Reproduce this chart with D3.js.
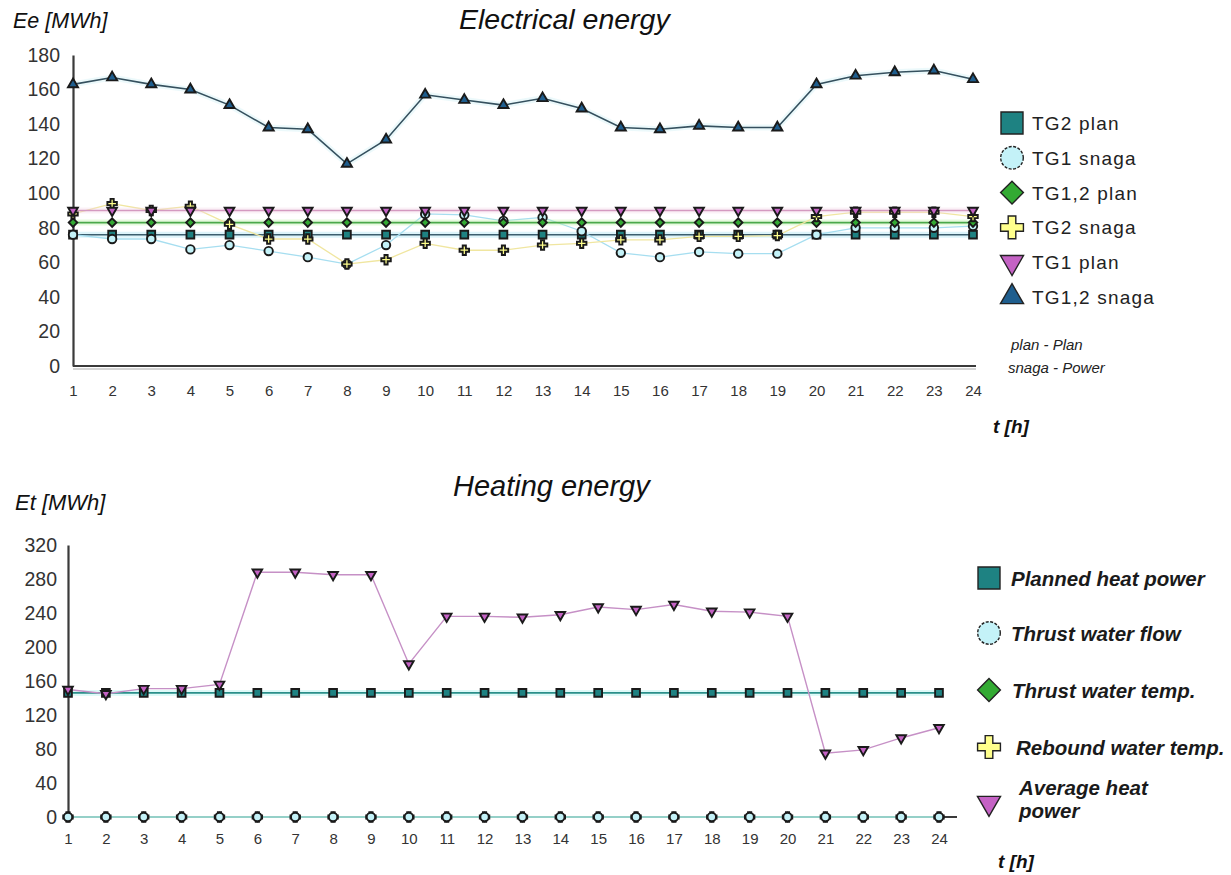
<!DOCTYPE html>
<html>
<head>
<meta charset="utf-8">
<script src="https://cdn.jsdelivr.net/npm/d3@7"></script>
<style>
  html, body { margin: 0; padding: 0; background: #fff; }
  svg { display: block; }
  text { font-family: "Liberation Sans", Arial, sans-serif; }
</style>
</head>
<body>
<svg id="chart" width="1231" height="875"></svg>
<script>
// ---------- DATA ----------
const hours = [1,2,3,4,5,6,7,8,9,10,11,12,13,14,15,16,17,18,19,20,21,22,23,24];

// Electrical energy (MWh)
const elecYTicks = [0,20,40,60,80,100,120,140,160,180];
const tg2Plan   = [76,76,76,76,76,76,76,76,76,76,76,76,76,76,76,76,76,76,76,76,76,76,76,76];
const tg1Snaga  = [76,73.5,73.5,67.5,70,66.5,63,59,70,88,87.5,84,86,78,65.5,63,66,65,65,76,80,80,80,81];
const tg12Plan  = [83,83,83,83,83,83,83,83,83,83,83,83,83,83,83,83,83,83,83,83,83,83,83,83];
const tg2Snaga  = [88,94,90,92.5,82,73.5,73.5,59,61.5,71,67,67,70,71,73,73,75,75,75.5,86.5,89,89,89,86.5];
const tg1Plan   = [90,90,90,90,90,90,90,90,90,90,90,90,90,90,90,90,90,90,90,90,90,90,90,90];
const tg12Snaga = [163,167,163,160,151,138,137,117,131,157,154,151,155,149,138,137,139,138,138,163,168,170,171,166];
const elecNames = ["TG2 plan","TG1 snaga","TG1,2 plan","TG2 snaga","TG1 plan","TG1,2 snaga"];

// Heating energy (MWh)
const heatYTicks = [0,40,80,120,160,200,240,280,320];
const plannedHeat  = [146,146,146,146,146,146,146,146,146,146,146,146,146,146,146,146,146,146,146,146,146,146,146,146];
const thrustFlow   = [0,0,0,0,0,0,0,0,0,0,0,0,0,0,0,0,0,0,0,0,0,0,0,0];
const thrustTemp   = [0,0,0,0,0,0,0,0,0,0,0,0,0,0,0,0,0,0,0,0,0,0,0,0];
const reboundTemp  = [0,0,0,0,0,0,0,0,0,0,0,0,0,0,0,0,0,0,0,0,0,0,0,0];
const avgHeat      = [150,145,151,151,156,288,288,285,285,180,236,236,235,238,247,244,250,242,241,236,75,79,93,105];
const heatNames = ["Planned heat power","Thrust water flow","Thrust water temp.","Rebound water temp.","Average heat power"];

// ---------- STYLES ----------
const markerDefs = {
  square:   { shape: d3.symbolSquare,   rot: 0,   fill: "#1e8282" },
  circle:   { shape: d3.symbolCircle,   rot: 0,   fill: "#c4f2f8" },
  diamond:  { shape: d3.symbolSquare,   rot: 45,  fill: "#33aa33" },
  cross:    { shape: d3.symbolCross,    rot: 0,   fill: "#ffff8c" },
  triDown:  { shape: d3.symbolTriangle, rot: 180, fill: "#c462c4" },
  triUp:    { shape: d3.symbolTriangle, rot: 0,   fill: "#1f5e8e" }
};
const smallSize = { square: 60, circle: 56, diamond: 36, cross: 50, triDown: 40, triUp: 44 };
const legendSize = { square: 484, circle: 400, diamond: 260, cross: 290, triDown: 230, triUp: 230 };

const svg = d3.select("#chart");

function symbolPath(kind, size) {
  return d3.symbol().type(markerDefs[kind].shape).size(size)();
}

function drawChart(cfg) {
  const g = svg.append("g");
  const x = d3.scaleLinear().domain([1, 24]).range(cfg.xRange);
  const y = d3.scaleLinear().domain([0, cfg.yMax]).range(cfg.yRange);

  // y axis
  const ya = g.append("g").attr("transform", `translate(${cfg.xRange[0]},0)`)
    .call(d3.axisLeft(y).tickValues(cfg.yTicks).tickSize(0).tickSizeOuter(0).tickPadding(cfg.yPad));
  ya.select(".domain").attr("stroke", "#3a3a3a").attr("stroke-width", 2.2);
  ya.selectAll("text").attr("font-size", 19.5).attr("fill", "#333")
    .attr("font-family", "'Liberation Sans', Arial, sans-serif");

  // x axis
  const xa = g.append("g").attr("transform", `translate(0,${cfg.yRange[0]})`)
    .call(d3.axisBottom(x).tickValues(hours).tickSize(0).tickSizeOuter(0).tickPadding(cfg.xPad).tickFormat(d3.format("d")));
  xa.select(".domain").remove();
  xa.selectAll("text").attr("font-size", 15).attr("fill", "#333")
    .attr("font-family", "'DejaVu Sans Condensed', 'Liberation Sans', Arial, sans-serif");
  g.append("line")
    .attr("x1", cfg.xRange[0]).attr("x2", x(24) + cfg.xExtend)
    .attr("y1", cfg.yRange[0]).attr("y2", cfg.yRange[0])
    .attr("stroke", "#3a3a3a").attr("stroke-width", 2.2);
  if (cfg.doubleAxis) {
    g.append("line")
      .attr("x1", cfg.xRange[0]).attr("x2", x(24) + cfg.xExtend)
      .attr("y1", cfg.yRange[0] + 3).attr("y2", cfg.yRange[0] + 3)
      .attr("stroke", "#aaa").attr("stroke-width", 1.2);
  }

  const line = d3.line().x((d, i) => x(hours[i])).y(d => y(d));

  // lines
  cfg.series.forEach(s => {
    if (s.halo) {
      g.append("path").datum(s.values).attr("d", line)
        .attr("fill", "none").attr("stroke", s.halo).attr("stroke-width", 6).attr("opacity", 0.35);
    }
    g.append("path").datum(s.values).attr("d", line)
      .attr("fill", "none").attr("stroke", s.color).attr("stroke-width", s.width || 1.6);
  });
  // markers
  cfg.series.forEach(s => {
    const def = markerDefs[s.marker];
    g.append("g").selectAll("path").data(s.values).join("path")
      .attr("d", symbolPath(s.marker, smallSize[s.marker]))
      .attr("transform", (d, i) => `translate(${x(hours[i])},${y(d)}) rotate(${def.rot})`)
      .attr("fill", def.fill).attr("stroke", "#1a1a1a").attr("stroke-width", 1.9);
  });
  return g;
}

// ---------- ELECTRICAL ----------
drawChart({
  xRange: [73, 973], yRange: [366, 55], yMax: 180, yTicks: elecYTicks,
  yPad: 13, xPad: 19, xExtend: 3, doubleAxis: true,
  series: [
    { values: tg2Plan,   marker: "square",  color: "#3c5e6e", halo: "#9fe0f0" },
    { values: tg1Snaga,  marker: "circle",  color: "#a6def0", width: 1.3 },
    { values: tg12Plan,  marker: "diamond", color: "#4aa84a", halo: "#b8f0a0" },
    { values: tg2Snaga,  marker: "cross",   color: "#f0e6a0", width: 1.3 },
    { values: tg1Plan,   marker: "triDown", color: "#d49ac0", halo: "#f4d6e8" },
    { values: tg12Snaga, marker: "triUp",   color: "#35505e", halo: "#c8eef4" }
  ]
});

svg.append("text").attr("x", 459).attr("y", 29)
  .attr("font-size", 28.5).attr("font-style", "italic").attr("fill", "#111")
  .text("Electrical energy");
svg.append("text").attr("x", 13).attr("y", 28)
  .attr("font-size", 21.5).attr("font-style", "italic").attr("fill", "#111")
  .text("Ee [MWh]");

const elecMarkers = ["square","circle","diamond","cross","triDown","triUp"];
const legE = svg.append("g");
elecNames.forEach((name, i) => {
  const cy = 123 + i * 34.8;
  const def = markerDefs[elecMarkers[i]];
  legE.append("path").attr("d", symbolPath(elecMarkers[i], legendSize[elecMarkers[i]]))
    .attr("transform", `translate(1012,${cy}) rotate(${def.rot})`)
    .attr("fill", def.fill).attr("stroke", "#222").attr("stroke-width", 1.4)
    .attr("stroke-dasharray", elecMarkers[i] === "circle" ? "3,1.5" : null);
  legE.append("text").attr("x", 1032).attr("y", cy + 7)
    .attr("font-size", 19).attr("fill", "#222").attr("letter-spacing", 1.2)
    .attr("font-family", "'DejaVu Sans', Verdana, sans-serif")
    .text(name);
});
legE.append("text").attr("x", 1011).attr("y", 350)
  .attr("font-size", 15).attr("font-style", "italic").attr("fill", "#222")
  .text("plan - Plan");
legE.append("text").attr("x", 1008).attr("y", 373)
  .attr("font-size", 15).attr("font-style", "italic").attr("fill", "#222")
  .text("snaga - Power");
svg.append("text").attr("x", 993).attr("y", 433)
  .attr("font-size", 19).attr("font-style", "italic").attr("font-weight", "bold").attr("fill", "#111")
  .text("t [h]");

// ---------- HEATING ----------
drawChart({
  xRange: [68, 939], yRange: [817, 545], yMax: 320, yTicks: heatYTicks,
  yPad: 11, xPad: 16, xExtend: 18, doubleAxis: false,
  series: [
    { values: reboundTemp, marker: "cross",   color: "#d8d080" },
    { values: thrustTemp,  marker: "diamond", color: "#4aa84a" },
    { values: thrustFlow,  marker: "circle",  color: "#a6def0" },
    { values: plannedHeat, marker: "square",  color: "#2a8f8a", halo: "#a0f0ec" },
    { values: avgHeat,     marker: "triDown", color: "#c690c6", width: 1.4 }
  ]
});

svg.append("text").attr("x", 453).attr("y", 496)
  .attr("font-size", 29).attr("font-style", "italic").attr("fill", "#111")
  .text("Heating energy");
svg.append("text").attr("x", 15).attr("y", 510)
  .attr("font-size", 22).attr("font-style", "italic").attr("fill", "#111")
  .text("Et [MWh]");

const heatMarkers = ["square","circle","diamond","cross","triDown"];
const heatLegendY = [578, 633, 690, 747, 803];
const heatTextX = [1011, 1011, 1012, 1016, 1019];
const legH = svg.append("g");
heatNames.forEach((name, i) => {
  const cy = heatLegendY[i];
  const def = markerDefs[heatMarkers[i]];
  legH.append("path").attr("d", symbolPath(heatMarkers[i], legendSize[heatMarkers[i]]))
    .attr("transform", `translate(989,${cy}) rotate(${def.rot})`)
    .attr("fill", def.fill).attr("stroke", "#222").attr("stroke-width", 1.4)
    .attr("stroke-dasharray", heatMarkers[i] === "circle" ? "3,1.5" : null);
  const t = legH.append("text").attr("font-size", 20.5).attr("font-style", "italic")
    .attr("font-weight", "bold").attr("fill", "#1a1a1a");
  if (name === "Average heat power") {
    t.append("tspan").attr("x", heatTextX[i]).attr("y", 795).text("Average heat");
    t.append("tspan").attr("x", heatTextX[i]).attr("y", 818).text("power");
  } else {
    t.attr("x", heatTextX[i]).attr("y", cy + 8).text(name);
  }
});
svg.append("text").attr("x", 998).attr("y", 868)
  .attr("font-size", 19).attr("font-style", "italic").attr("font-weight", "bold").attr("fill", "#111")
  .text("t [h]");
</script>
</body>
</html>
